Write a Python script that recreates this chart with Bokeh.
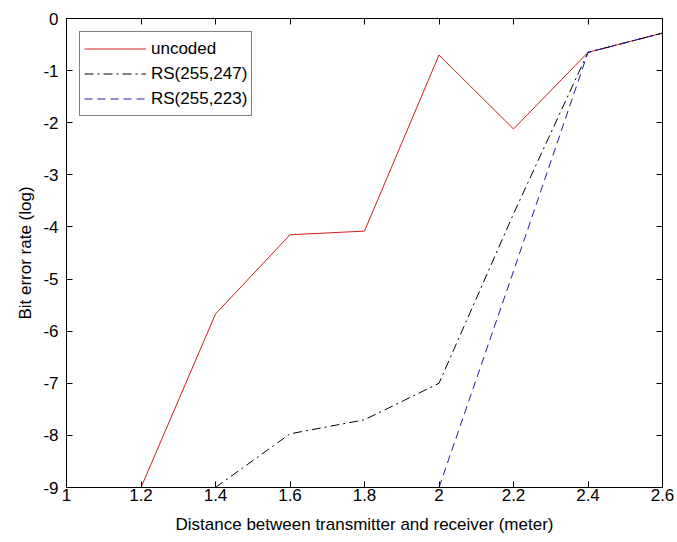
from bokeh.plotting import figure
from bokeh.models import Range1d, LinearAxis, FixedTicker, CustomJSTickFormatter, Legend, LegendItem
from bokeh.embed import file_html
from bokeh.resources import INLINE

# ---- data ----
distance_uncoded = [1.2, 1.4, 1.6, 1.8, 2.0, 2.2, 2.4, 2.6]
ber_uncoded = [-9.0, -5.67, -4.15, -4.08, -0.7, -2.12, -0.65, -0.28]

distance_rs247 = [1.4, 1.6, 1.8, 2.0, 2.2, 2.4, 2.6]
ber_rs247 = [-9.0, -7.97, -7.7, -7.0, -3.75, -0.65, -0.28]

distance_rs223 = [2.0, 2.2, 2.4, 2.6]
ber_rs223 = [-9.0, -4.85, -0.65, -0.28]

x_ticks = [1.0, 1.2, 1.4, 1.6, 1.8, 2.0, 2.2, 2.4, 2.6]
x_tick_labels = ["1", "1.2", "1.4", "1.6", "1.8", "2", "2.2", "2.4", "2.6"]
y_ticks = [0, -1, -2, -3, -4, -5, -6, -7, -8, -9]
y_tick_labels = ["0", "-1", "-2", "-3", "-4", "-5", "-6", "-7", "-8", "-9"]

series_names = ["uncoded", "RS(255,247)", "RS(255,223)"]

FONT = "Liberation Sans"
FS = "17px"

p = figure(width=677, height=542, output_backend="svg", toolbar_location=None,
           x_range=Range1d(1.0, 2.6), y_range=Range1d(-9, 0),
           min_border_left=66, min_border_right=15, min_border_top=18, min_border_bottom=55)
p.background_fill_color = "white"
p.border_fill_color = "white"
p.outline_line_color = "black"
p.outline_line_width = 1
p.xgrid.visible = False
p.ygrid.visible = False

label_code = """
let best = 0; let bd = 1e9;
for (let i = 0; i < tvals.length; i++) { const d = Math.abs(tvals[i] - tick); if (d < bd) { bd = d; best = i; } }
return tlabels[best];
"""
xfmt = CustomJSTickFormatter(args=dict(tvals=x_ticks, tlabels=x_tick_labels), code=label_code)
yfmt = CustomJSTickFormatter(args=dict(tvals=y_ticks, tlabels=y_tick_labels), code=label_code)
blankfmt = CustomJSTickFormatter(code="return '';")

def style_axis(ax):
    ax.axis_line_color = "black"
    ax.major_tick_line_color = "black"
    ax.major_tick_in = 6
    ax.major_tick_out = 0
    ax.minor_tick_line_color = None
    ax.major_label_text_font = FONT
    ax.major_label_text_font_size = FS
    ax.major_label_text_color = "black"
    ax.axis_label_text_font = FONT
    ax.axis_label_text_font_size = FS
    ax.axis_label_text_font_style = "normal"
    ax.axis_label_text_color = "black"

xa = p.xaxis[0]
xa.ticker = FixedTicker(ticks=x_ticks)
xa.formatter = xfmt
xa.axis_label = "Distance between transmitter and receiver (meter)"
style_axis(xa)
xa.major_label_standoff = 1
xa.axis_label_standoff = 11

ya = p.yaxis[0]
ya.ticker = FixedTicker(ticks=y_ticks)
ya.formatter = yfmt
ya.axis_label = "Bit error rate (log)"
style_axis(ya)
ya.major_label_standoff = 8
ya.axis_label_standoff = 5

top = LinearAxis(ticker=FixedTicker(ticks=x_ticks), formatter=blankfmt)
style_axis(top)
top.major_label_standoff = 0
p.add_layout(top, "above")
right = LinearAxis(ticker=FixedTicker(ticks=y_ticks), formatter=blankfmt)
style_axis(right)
right.major_label_standoff = 0
p.add_layout(right, "right")

r1 = p.line(distance_uncoded, ber_uncoded, line_color="#d01c1c", line_width=1)
r2 = p.line(distance_rs247, ber_rs247, line_color="black", line_width=1, line_dash="9 4 2 4")
r3 = p.line(distance_rs223, ber_rs223, line_color="#1c1caa", line_width=1, line_dash="8 5")

legend = Legend(items=[LegendItem(label=series_names[0], renderers=[r1]),
                       LegendItem(label=series_names[1], renderers=[r2]),
                       LegendItem(label=series_names[2], renderers=[r3])],
                location="top_left")
legend.margin = 13
legend.padding = 4
legend.spacing = 0
legend.glyph_width = 62
legend.glyph_height = 25
legend.label_height = 25
legend.label_standoff = 5
legend.label_text_font = FONT
legend.label_text_font_size = FS
legend.label_text_color = "black"
legend.border_line_color = "black"
legend.border_line_width = 1
legend.background_fill_color = "white"
legend.background_fill_alpha = 1.0
p.add_layout(legend, "center")

open("out.html", "w").write(file_html(p, INLINE))
